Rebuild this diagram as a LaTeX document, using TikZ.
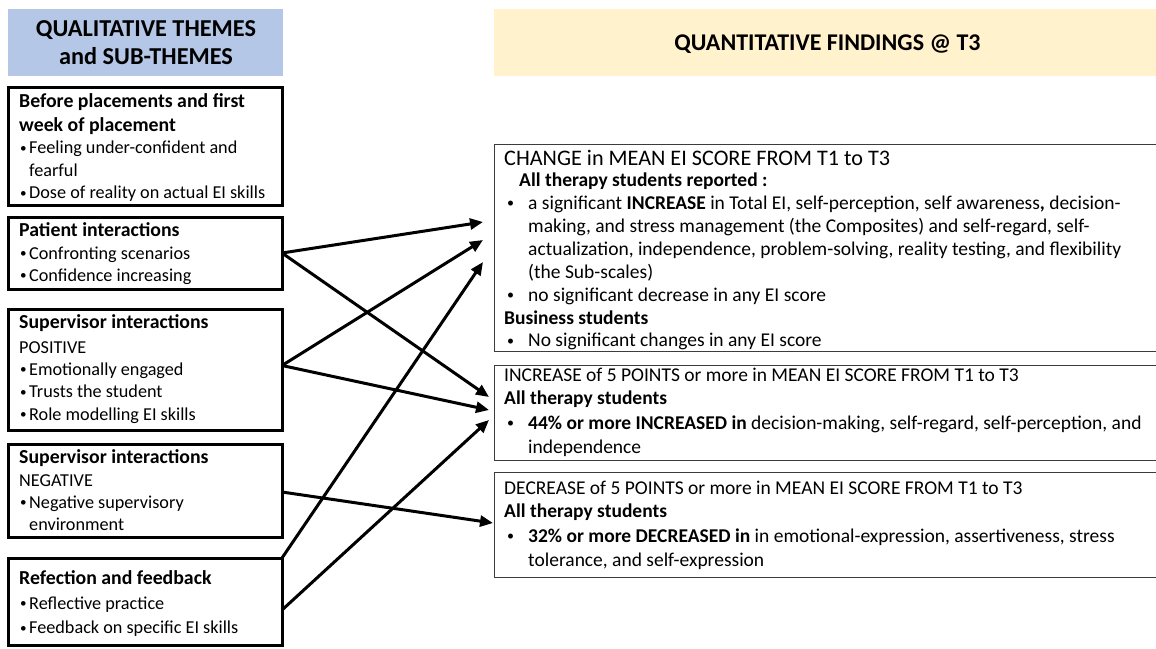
\documentclass[tikz,border=0pt]{standalone}
\usepackage{fontspec}
\usepackage{graphicx}
\setmainfont{Carlito}
\usetikzlibrary{arrows.meta}
\definecolor{hdrblue}{RGB}{180,199,231}
\definecolor{hdryellow}{RGB}{255,242,204}
\definecolor{findline}{RGB}{60,60,60}
\newcommand{\firstln}{\rule{0pt}{14pt}}
\newcommand{\tallln}{\rule{0pt}{17pt}}
\newcommand{\smallbullet}{\raisebox{1.6pt}{\scalebox{0.72}{\textbullet}}}
\newcommand{\ttl}[1]{{\fontsize{19.8}{22.3}\selectfont\bfseries #1}}
\newcommand{\bul}{\hspace{1pt}\makebox[9pt][l]{\smallbullet}}
\newcommand{\bulcont}{\hspace{10pt}}
\newcommand{\rbul}{\hspace{3pt}\makebox[21pt][l]{\smallbullet}}
\newcommand{\rcont}{\hspace{24pt}}
\begin{document}
\begin{tikzpicture}[x=1pt,y=-1pt,
  header/.style={rectangle,inner sep=0pt,outer sep=0pt},
  theme/.style={rectangle,draw=black,line width=3pt,inner sep=0pt,outer sep=0pt,minimum width=274pt},
  finding/.style={rectangle,draw=findline,line width=1pt,inner sep=0pt,outer sep=0pt,minimum width=676pt},
  boxtext/.style={anchor=north west,inner sep=0pt,align=left,font=\fontsize{18.2}{22.4}\selectfont},
  findtext/.style={anchor=north west,inner sep=0pt,align=left,font=\fontsize{19.5}{22.9}\selectfont},
  link/.style={line width=3pt,-{Triangle[length=13pt,width=11pt]}}]
\useasboundingbox (0,0) rectangle (1156,648);

% column headers
\node[header,fill=hdrblue,minimum width=275pt,minimum height=67pt] (qualhead) at (145.5,42.5) {};
\node[inner sep=0pt,align=center,font=\fontsize{24.3}{28.5}\selectfont\bfseries] (qualtitle) at (146,42.5) {QUALITATIVE THEMES\\and SUB-THEMES};
\node[header,fill=hdryellow,minimum width=676pt,minimum height=67pt] (quanthead) at (832,42.5) {};
\node[inner sep=0pt,font=\fontsize{24}{28}\selectfont\bfseries] (quanttitle) at (827.5,44.5) {QUANTITATIVE FINDINGS @ T3};

% qualitative themes
\node[theme,minimum height=118pt] (before) at (145,146) {};
\node[theme,minimum height=72pt] (patient) at (145,253) {};
\node[theme,minimum height=121pt] (suppos) at (145,369.5) {};
\node[theme,minimum height=93pt] (supneg) at (145,490.5) {};
\node[theme,minimum height=87pt] (reflect) at (145,601.5) {};

\node[boxtext] (beforetxt) at (19,93) {\firstln\ttl{Before placements and first}\\[1.8pt]
  \ttl{week of placement}\\
  \bul Feeling under-confident and\\
  \bulcont fearful\\
  \bul Dose of reality on actual EI skills};
\node[boxtext] (patienttxt) at (19,222.5) {\firstln\ttl{Patient interactions}\\
  \bul Confronting scenarios\\
  \bul Confidence increasing};
\node[boxtext] (supostxt) at (19,314.4) {\firstln\ttl{Supervisor interactions}\\[2pt]
  POSITIVE\\
  \bul Emotionally engaged\\
  \bul Trusts the student\\
  \bul Role modelling EI skills};
\node[boxtext] (supnegtxt) at (19,449.4) {\firstln\ttl{Supervisor interactions}\\
  NEGATIVE\\
  \bul Negative supervisory\\
  \bulcont environment};
\node[boxtext,font=\fontsize{18.2}{24.6}\selectfont] (reflecttxt) at (19,570.4) {\firstln\ttl{Refection and feedback}\\
  \bul Reflective practice\\
  \bul Feedback on specific EI skills};

% quantitative findings
\node[finding,minimum height=207pt] (meanchange) at (832,248) {};
\node[finding,minimum height=95pt] (increase) at (832,412.5) {};
\node[finding,minimum height=105pt] (decrease) at (832,524.5) {};

\node[findtext] (meantxt) at (504,148) {\tallln{\fontsize{22.2}{22.9}\selectfont CHANGE in MEAN EI SCORE FROM T1 to T3}\\[-1.5pt]
  \hspace{15pt}\textbf{All therapy students reported :}\\
  \rbul a significant \textbf{INCREASE} in Total EI, self-perception, self awareness\textbf{,} decision-\\
  \rcont making, and stress management (the Composites) and self-regard, self-\\
  \rcont actualization, independence, problem-solving, reality testing, and flexibility\\
  \rcont (the Sub-scales)\\
  \rbul no significant decrease in any EI score\\
  \textbf{Business students}\\
  \rbul No significant changes in any EI score};
\node[findtext,font=\fontsize{19.5}{24.7}\selectfont] (increasetxt) at (504,367) {\firstln INCREASE of 5 POINTS or more in MEAN EI SCORE FROM T1 to T3\\[-1.5pt]
  \textbf{All therapy students}\\
  \rbul \textbf{44\% or more INCREASED in} decision-making, self-regard, self-perception, and\\
  \rcont independence};
\node[findtext,font=\fontsize{19.5}{24.7}\selectfont] (decreasetxt) at (504,480) {\firstln DECREASE of 5 POINTS or more in MEAN EI SCORE FROM T1 to T3\\[-1.5pt]
  \textbf{All therapy students}\\
  \rbul \textbf{32\% or more DECREASED in} in emotional-expression, assertiveness, stress\\
  \rcont tolerance, and self-expression};

% links from themes to findings
\draw[link] (patient.east) -- ([xshift=-11pt,yshift=26pt]meanchange.west);
\draw[link] (patient.east) -- ([xshift=-5pt,yshift=15.5pt]increase.west);
\draw[link] ([yshift=4pt]suppos.east) -- ([xshift=-11pt,yshift=8pt]meanchange.west);
\draw[link] ([yshift=4pt]suppos.east) -- ([xshift=-5pt,yshift=2.5pt]increase.west);
\draw[link] ([yshift=-1.5pt]supneg.east) -- ([xshift=-1pt,yshift=1.5pt]decrease.west);
\draw[link] (reflect.north east) -- ([xshift=-11pt,yshift=-14pt]meanchange.west);
\draw[link] ([yshift=-8.5pt]reflect.east) -- ([xshift=-5pt,yshift=-7.5pt]increase.west);
\end{tikzpicture}
\end{document}
